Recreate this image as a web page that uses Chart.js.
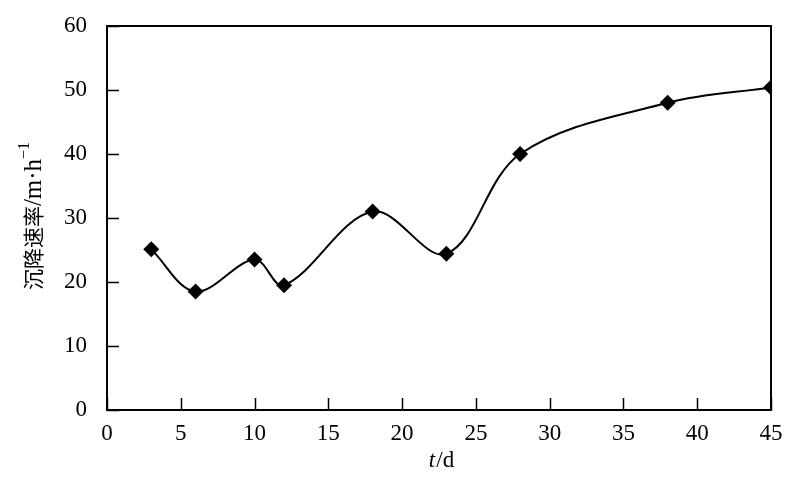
<!DOCTYPE html>
<html>
<head>
<meta charset="utf-8">
<script src="https://cdn.jsdelivr.net/npm/chart.js@4/dist/chart.umd.min.js"></script>
<style>
html,body{margin:0;padding:0;background:#fff;}
#wrap{width:800px;height:489px;}
</style>
</head>
<body>
<div id="wrap"><canvas id="c" width="800" height="489"></canvas></div>
<script>
// Data
const timeDays = [3, 6, 10, 12, 18, 23, 28, 38, 45];
const settlingRate = [25.1, 18.5, 23.5, 19.5, 31.0, 24.4, 40.0, 48.0, 50.4];
const xTicks = [0, 5, 10, 15, 20, 25, 30, 35, 40, 45];
const yTicks = [0, 10, 20, 30, 40, 50, 60];
const yTitleCJK = '沉降速率';
const yTitleUnit = '/m·h';
const yTitleSup = '−1';
const xTitleItalic = 't';
const xTitleRest = '/d';

const serif = "'Liberation Serif', 'Times New Roman', serif";
const cjk = "'Noto Sans CJK SC', 'Liberation Serif', serif";

const points = timeDays.map((t, i) => ({x: t, y: settlingRate[i]}));

const framePlugin = {
  id: 'frame',
  afterDatasetsDraw(chart) {
    const {ctx, chartArea: a, scales: {x, y}} = chart;
    ctx.save();
    ctx.strokeStyle = '#000';
    ctx.lineWidth = 2;
    ctx.strokeRect(a.left, a.top, a.right - a.left, a.bottom - a.top);
    ctx.lineWidth = 1.5;
    ctx.beginPath();
    xTicks.forEach(v => {
      const px = Math.round(x.getPixelForValue(v)) + 0.5;
      ctx.moveTo(px, a.bottom);
      ctx.lineTo(px, a.bottom - 12);
    });
    yTicks.forEach(v => {
      const py = Math.round(y.getPixelForValue(v)) + 0.5;
      ctx.moveTo(a.left, py);
      ctx.lineTo(a.left + 12, py);
    });
    ctx.stroke();

    // x title
    ctx.fillStyle = '#000';
    ctx.textBaseline = 'middle';
    ctx.font = 'italic 23px ' + serif;
    const w1 = ctx.measureText(xTitleItalic).width;
    ctx.font = '23px ' + serif;
    const w2 = ctx.measureText(xTitleRest).width;
    const cx = (a.left + a.right) / 2 + 2;
    let sx = cx - (w1 + w2) / 2;
    const ty = 461;
    ctx.textAlign = 'left';
    ctx.font = 'italic 23px ' + serif;
    ctx.fillText(xTitleItalic, sx, ty);
    ctx.font = '23px ' + serif;
    ctx.fillText(xTitleRest, sx + w1 + 1, ty);

    // y title rotated
    ctx.save();
    ctx.translate(33, 216);
    ctx.rotate(-Math.PI / 2);
    ctx.font = '21px ' + cjk;
    const c1 = ctx.measureText(yTitleCJK).width;
    ctx.font = '25px ' + serif;
    const c2 = ctx.measureText(yTitleUnit).width;
    ctx.font = '16px ' + serif;
    const c3 = ctx.measureText(yTitleSup).width;
    let px = -(c1 + c2 + c3) / 2;
    ctx.textBaseline = 'alphabetic';
    ctx.font = '21px ' + cjk;
    ctx.fillText(yTitleCJK, px, 8);
    px += c1;
    ctx.font = '25px ' + serif;
    ctx.fillText(yTitleUnit, px, 8);
    px += c2;
    ctx.font = '16px ' + serif;
    ctx.fillText(yTitleSup, px, -4);
    ctx.restore();

    ctx.restore();
  }
};

new Chart(document.getElementById('c'), {
  type: 'scatter',
  data: {
    datasets: [{
      data: points,
      showLine: true,
      tension: 0.35,
      borderColor: '#000',
      borderWidth: 2,
      backgroundColor: '#000',
      pointStyle: 'rectRot',
      pointRadius: 8,
      pointHoverRadius: 8,
      pointBackgroundColor: '#000',
      pointBorderWidth: 0
    }]
  },
  options: {
    responsive: false,
    animation: false,
    devicePixelRatio: 1,
    layout: {padding: {left: 0, top: 26, right: 29, bottom: 0}},
    plugins: {legend: {display: false}, tooltip: {enabled: false}},
    scales: {
      x: {
        type: 'linear',
        min: 0, max: 45,
        afterFit(s) { s.height = 79; s.paddingLeft = 0; s.paddingRight = 0; },
        afterBuildTicks(s) { s.ticks = xTicks.map(v => ({value: v})); },
        grid: {display: false, drawTicks: false},
        border: {display: false},
        ticks: {
          padding: 10,
          color: '#000',
          font: {family: serif, size: 23},
          maxRotation: 0,
          autoSkip: false
        }
      },
      y: {
        type: 'linear',
        min: 0, max: 60,
        afterFit(s) { s.width = 107; s.paddingTop = 0; s.paddingBottom = 0; },
        afterBuildTicks(s) { s.ticks = yTicks.map(v => ({value: v})); },
        grid: {display: false, drawTicks: false},
        border: {display: false},
        ticks: {
          padding: 20,
          color: '#000',
          font: {family: serif, size: 23}
        }
      }
    }
  },
  plugins: [framePlugin]
});
</script>
</body>
</html>
